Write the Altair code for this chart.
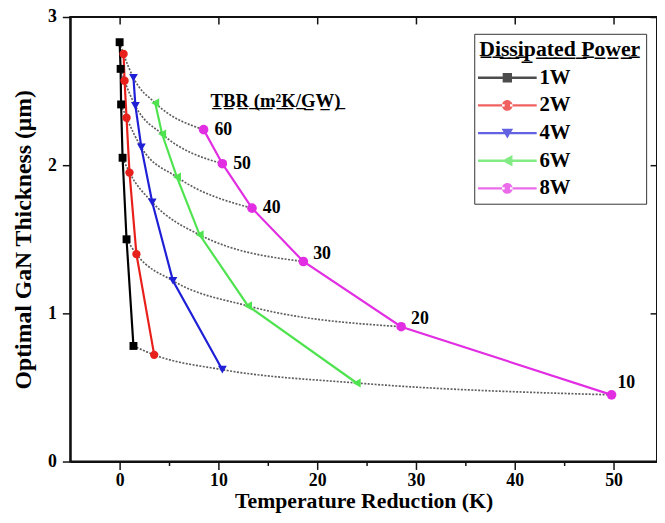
import altair as alt
import pandas as pd

powers = ["1W", "2W", "4W", "6W", "8W"]
tbr_values = [60, 50, 40, 30, 20, 10]

x_1w = [0.0, 0.1, 0.15, 0.3, 0.7, 1.4]
y_1w = [2.83, 2.65, 2.41, 2.05, 1.50, 0.78]
x_2w = [0.4, 0.5, 0.7, 1.0, 1.7, 3.5]
y_2w = [2.75, 2.57, 2.32, 1.95, 1.40, 0.72]
x_4w = [1.4, 1.6, 2.2, 3.3, 5.4, 10.4]
y_4w = [2.59, 2.40, 2.12, 1.75, 1.22, 0.62]
x_6w = [3.6, 4.3, 5.8, 8.1, 13.0, 24.0]
y_6w = [2.42, 2.21, 1.92, 1.53, 1.05, 0.53]
x_8w = [8.5, 10.4, 13.4, 18.6, 28.5, 49.8]
y_8w = [2.24, 2.01, 1.71, 1.35, 0.91, 0.45]

colors = ["#000000", "#e8201c", "#1f1fd6", "#4fe34f", "#e22ee2"]
shapes = ["square", "circle", "triangle-down", "triangle-left", "circle"]
marker_sizes = [64, 95, 130, 130, 125]

UL = "\u0332"
def underline(s):
    return "".join(ch + UL for ch in s)

tbr_header = [underline("TBR (m\u00b2K/GW)")]
tbr_header_x = [9.2]
tbr_header_y = [2.39]
legend_title = underline("Dissipated Power")

FONT = "Liberation Serif"

rows = []
for p, xs, ys in zip(powers, [x_1w, x_2w, x_4w, x_6w, x_8w], [y_1w, y_2w, y_4w, y_6w, y_8w]):
    for t, xv, yv in zip(tbr_values, xs, ys):
        rows.append({"power": p, "tbr": t, "x": xv, "y": yv})
df = pd.DataFrame(rows)
hdr = pd.DataFrame({"label": tbr_header, "x": tbr_header_x, "y": tbr_header_y})

xscale = alt.Scale(domain=[-5, 54.4], nice=False, zero=False)
yscale = alt.Scale(domain=[0, 3], nice=False, zero=False)
cscale = alt.Scale(domain=powers, range=colors)

line_seg = " M-6.6,-0.27H-0.6V0.27H-6.6Z M0.6,-0.27H6.6V0.27H0.6Z"
legend_paths = [
    "M-1.05,-1.05H1.05V1.05H-1.05Z" + line_seg,
    "M-1.2,0A1.2,1.2,0,1,0,1.2,0A1.2,1.2,0,1,0,-1.2,0Z" + line_seg,
    "M-1.3,-1L1.3,-1L0,1.2Z" + line_seg,
    "M-1.15,0L1.15,-1.3L1.15,1.3Z" + line_seg,
    "M-1.2,0A1.2,1.2,0,1,0,1.2,0A1.2,1.2,0,1,0,-1.2,0Z" + line_seg,
]

bottom_axis = alt.Axis(
    orient="bottom", values=[0, 5, 10, 15, 20, 25, 30, 35, 40, 45, 50], format="d",
    labelExpr="datum.value % 10 === 0 ? datum.label : ''",
    tickSize={"condition": {"test": "datum.value % 10 === 0", "value": 8}, "value": 4},
    title="Temperature Reduction (K)", grid=False, labelPadding=2,
    titleY=47, titleBaseline="alphabetic", titleFontSize=22,
)
left_axis = alt.Axis(
    orient="left", values=[0, 0.5, 1, 1.5, 2, 2.5, 3], format="d",
    labelExpr="datum.value % 1 === 0 ? datum.label : ''",
    tickSize={"condition": {"test": "datum.value % 1 === 0", "value": 8}, "value": 4},
    title="Optimal GaN Thickness (\u03bcm)", grid=False, labelPadding=6, titlePadding=12,
    titleFontSize=24,
)
top_axis = alt.Axis(orient="top", values=[0, 10, 20, 30, 40, 50], labels=False, title=None,
                    domain=False, tickSize=7, offset=-7, grid=False)
right_axis = alt.Axis(orient="right", values=[0, 1, 2, 3], labels=False, title=None,
                      domain=False, tickSize=7, offset=-7, grid=False)

base = alt.Chart(df)

dotted = base.mark_line(interpolate="monotone", strokeDash=[2, 1.5], color="#5e5e5e",
                        strokeWidth=1.7).encode(
    x=alt.X("x:Q", scale=xscale, axis=bottom_axis),
    y=alt.Y("y:Q", scale=yscale, axis=left_axis),
    detail="tbr:N",
    order=alt.Order("x:Q"),
)

lines = base.mark_line(strokeWidth=2.2).encode(
    x=alt.X("x:Q", scale=xscale, axis=top_axis),
    y=alt.Y("y:Q", scale=yscale, axis=right_axis),
    color=alt.Color("power:N", scale=cscale, legend=None),
    order=alt.Order("tbr:Q", sort="descending"),
)

points = base.mark_point(filled=True, opacity=1).encode(
    x=alt.X("x:Q", scale=xscale, axis=None),
    y=alt.Y("y:Q", scale=yscale, axis=None),
    color=alt.Color("power:N", scale=cscale, legend=None),
    shape=alt.Shape("power:N", scale=alt.Scale(domain=powers, range=shapes), legend=None),
    size=alt.Size("power:O", scale=alt.Scale(domain=powers, range=marker_sizes), legend=None),
)

def tbr_labels(values, dx, dy):
    return base.transform_filter(
        alt.FieldEqualPredicate(field="power", equal="8W")
    ).transform_filter(
        alt.FieldOneOfPredicate(field="tbr", oneOf=values)
    ).mark_text(font=FONT, fontWeight="bold", fontSize=18, align="left", baseline="middle",
                dx=dx, dy=dy, color="black").encode(
        x=alt.X("x:Q", scale=xscale, axis=None),
        y=alt.Y("y:Q", scale=yscale, axis=None),
        text="tbr:N",
    )

lab1 = tbr_labels([60, 50, 40], 11, 0)
lab2 = tbr_labels([30, 20], 10, -8)
lab3 = tbr_labels([10], 6, -12)

header = alt.Chart(hdr).mark_text(font=FONT, fontWeight="bold", fontSize=19, align="left",
                                   baseline="alphabetic", color="black").encode(
    x=alt.X("x:Q", scale=xscale, axis=None),
    y=alt.Y("y:Q", scale=yscale, axis=None),
    text="label:N",
)

legend = alt.Legend(
    orient="none", legendX=409, legendY=17, title=legend_title,
    titleFont=FONT, titleFontSize=22, titleFontWeight="bold", titleColor="black",
    labelFont=FONT, labelFontSize=21, labelFontWeight="bold", labelColor="black",
    symbolSize=81, symbolOffset=18, labelOffset=22, padding=5, rowPadding=6,
    titlePadding=7, strokeColor="#333333", fillColor="white", symbolStrokeWidth=0,
)

legend_layer = base.transform_calculate(yy="datum.y + 10").mark_point(
    filled=True, clip=True).encode(
    x=alt.X("x:Q", scale=xscale, axis=None),
    y=alt.Y("yy:Q", scale=yscale, axis=None),
    color=alt.Color("power:N", scale=cscale, legend=legend),
    shape=alt.Shape("power:N", scale=alt.Scale(domain=powers, range=legend_paths), legend=legend),
)

chart = alt.layer(dotted, lines, points, lab1, lab2, lab3, header, legend_layer).resolve_scale(
    color="independent", shape="independent", size="independent"
).resolve_axis(
    x="independent", y="independent"
).properties(
    width=594, height=450,
    autosize=alt.AutoSizeParams(type="none"),
    padding={"left": 63, "top": 6, "right": 0, "bottom": 51},
).configure_view(
    stroke="#111111", strokeWidth=2
).configure_axis(
    labelFont=FONT, labelFontSize=18, labelFontWeight="bold", labelColor="black",
    titleFont=FONT, titleFontSize=23, titleFontWeight="bold", titleColor="black",
    domainColor="#111111", domainWidth=2, tickColor="#111111", tickWidth=1.5,
)

chart.save("out.html", embed_options={"renderer": "svg", "actions": False})
